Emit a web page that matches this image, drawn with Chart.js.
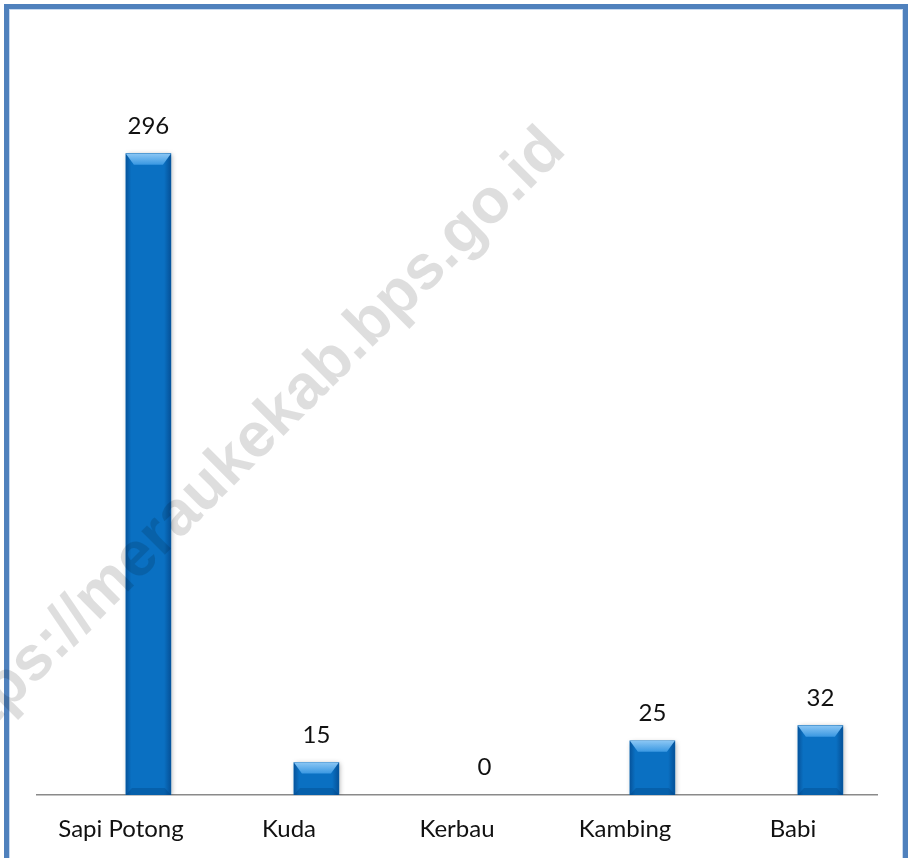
<!DOCTYPE html>
<html>
<head>
<meta charset="utf-8">
<script src="https://cdn.jsdelivr.net/npm/chart.js"></script>
<style>
  html, body { margin: 0; padding: 0; background: #ffffff; }
  body { width: 908px; height: 858px; position: relative; overflow: hidden; }
  .frame {
    position: absolute;
    left: 4px; top: 4px;
    width: 904px; height: 900px;
    box-sizing: border-box;
    border: 5px solid #4f81bd;
    box-shadow: inset 0 0 0 1px #c6d9f0;
  }
  #chart { position: absolute; left: 0; top: 0; }
</style>
</head>
<body>
<div class="frame"></div>
<canvas id="chart" width="908" height="858"></canvas>
<script>
// values
const categories = ['Sapi Potong', 'Kuda', 'Kerbau', 'Kambing', 'Babi'];
const counts = [296, 15, 0, 25, 32];
const tickValues = [0, 1, 2, 3, 4];

const WATERMARK = 'https://meraukekab.bps.go.id';
const BAR_SHIFT = 0.163; // bars sit a bit right of their labels in the original

// bevel look on top of the plain bars
const bevelPlugin = {
  id: 'bevel',
  beforeDatasetsDraw(chart) {
    const ctx = chart.ctx;
    ctx.save();
    ctx.shadowColor = 'rgba(0, 0, 0, 0.35)';
    ctx.shadowBlur = 5;
    ctx.shadowOffsetX = 1;
    ctx.shadowOffsetY = 1;
  },
  afterDatasetsDraw(chart) {
    const ctx = chart.ctx;
    ctx.restore();
    const meta = chart.getDatasetMeta(0);
    meta.data.forEach((bar) => {
      const h = bar.base - bar.y;
      if (h < 1) return;
      const x0 = bar.x - bar.width / 2;
      const x1 = bar.x + bar.width / 2;
      const top = bar.y;
      const bev = Math.min(11, h / 2);
      ctx.save();

      // darker sides
      const side = ctx.createLinearGradient(x0, 0, x1, 0);
      side.addColorStop(0, 'rgba(0, 50, 110, 0.45)');
      side.addColorStop(0.12, 'rgba(0, 50, 110, 0.0)');
      side.addColorStop(0.85, 'rgba(0, 50, 110, 0.0)');
      side.addColorStop(1, 'rgba(0, 50, 110, 0.5)');
      ctx.fillStyle = side;
      ctx.fillRect(x0, top, x1 - x0, h);

      // light top facet
      const cap = ctx.createLinearGradient(0, top, 0, top + bev);
      cap.addColorStop(0, '#8ac6f4');
      cap.addColorStop(1, '#3a98e2');
      ctx.fillStyle = cap;
      ctx.beginPath();
      ctx.moveTo(x0, top);
      ctx.lineTo(x1, top);
      ctx.lineTo(x1 - 8, top + bev);
      ctx.lineTo(x0 + 8, top + bev);
      ctx.closePath();
      ctx.fill();

      // darker bottom facet
      const bb = Math.min(7, h / 3);
      ctx.fillStyle = 'rgba(0, 60, 120, 0.3)';
      ctx.beginPath();
      ctx.moveTo(x0, bar.base);
      ctx.lineTo(x1, bar.base);
      ctx.lineTo(x1 - 6, bar.base - bb);
      ctx.lineTo(x0 + 6, bar.base - bb);
      ctx.closePath();
      ctx.fill();
      ctx.restore();
    });
  }
};

// value labels above each bar
const valueLabels = {
  id: 'valueLabels',
  afterDatasetsDraw(chart) {
    const ctx = chart.ctx;
    const meta = chart.getDatasetMeta(0);
    ctx.save();
    ctx.font = '24px Lato';
    ctx.fillStyle = '#111';
    ctx.textAlign = 'center';
    ctx.textBaseline = 'alphabetic';
    meta.data.forEach((bar, i) => {
      ctx.fillText(String(counts[i]), bar.x, bar.y - 20);
    });
    ctx.restore();
  }
};

// faint diagonal watermark
const watermark = {
  id: 'watermark',
  afterDraw(chart) {
    const ctx = chart.ctx;
    ctx.save();
    ctx.translate(246, 449);
    ctx.rotate(-Math.PI / 4);
    ctx.font = 'bold 63px "Liberation Sans", Arial';
    ctx.fillStyle = 'rgba(0, 0, 0, 0.13)';
    ctx.textAlign = 'center';
    ctx.textBaseline = 'middle';
    ctx.fillText(WATERMARK, 0, 0);
    ctx.restore();
  }
};

new Chart(document.getElementById('chart'), {
  type: 'bar',
  data: {
    datasets: [{
      data: counts.map((v, i) => ({ x: tickValues[i] + BAR_SHIFT, y: v })),
      backgroundColor: (c) => (c.raw && c.raw.y === 0 ? 'rgba(0,0,0,0)' : '#0a70c2'),
      borderWidth: 0,
      barThickness: 45
    }]
  },
  options: {
    responsive: false,
    animation: false,
    events: [],
    layout: { padding: { left: 37, right: 31, top: 145, bottom: 14 } },
    plugins: {
      legend: { display: false },
      tooltip: { enabled: false }
    },
    scales: {
      x: {
        type: 'linear',
        min: -0.5,
        max: 4.5,
        offset: false,
        grid: { display: false, drawTicks: false },
        border: { display: true, color: '#8a8a8a', width: 1.5 },
        afterBuildTicks: (axis) => {
          axis.ticks = tickValues.map((v) => ({ value: v }));
        },
        afterFit: (axis) => {
          axis.height = 49;
        },
        ticks: {
          padding: 20,
          color: '#111',
          font: { family: 'Lato', size: 24 },
          maxRotation: 0,
          autoSkip: false,
          callback: (v) => categories[v]
        }
      },
      y: {
        display: false,
        min: 0,
        max: 300
      }
    }
  },
  plugins: [bevelPlugin, valueLabels, watermark]
});
</script>
</body>
</html>
